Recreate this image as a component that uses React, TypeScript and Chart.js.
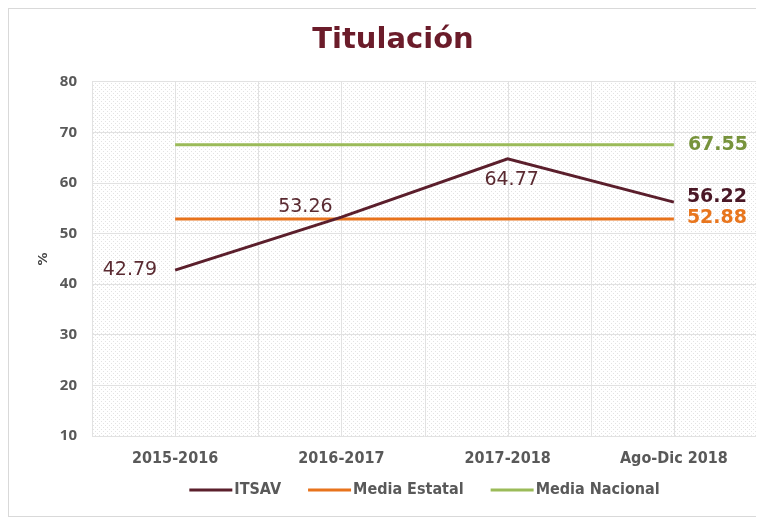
import React, { useEffect, useRef } from "react";
import { Chart, registerables } from "chart.js";

Chart.register(...registerables);

const categories = ["2015-2016", "2016-2017", "2017-2018", "Ago-Dic 2018"];
const itsav = [42.79, 53.26, 64.77, 56.22];
const mediaEstatal = [52.88, 52.88, 52.88, 52.88];
const mediaNacional = [67.55, 67.55, 67.55, 67.55];
const seriesNames = ["ITSAV", "Media Estatal", "Media Nacional"];
const yMin = 10;
const yMax = 80;
const yStep = 10;

const COLORS = {
  itsav: "#5b1f2c",
  itsavLabel: "#5a2a31",
  itsavBold: "#4a1826",
  estatal: "#e8731c",
  estatalLabel: "#e8761e",
  nacional: "#9bbb59",
  nacionalLabel: "#77933c",
  title: "#6b1c2a",
  axis: "#595959",
  grid: "#e2e2e2",
};

// label placement relative to each drawn point
const labelSpecs: any[][] = [
  [
    { dx: -18, dy: 0, align: "right", bold: false },
    { dx: -36, dy: -10, align: "center", bold: false },
    { dx: 4, dy: 21, align: "center", bold: false },
    { dx: 13, dy: -5, align: "left", bold: true },
  ],
  [null, null, null, { dx: 13, dy: -1, align: "left", bold: true }],
  [null, null, null, { dx: 14, dy: 0, align: "left", bold: true }],
];
const labelColors = [COLORS.itsavLabel, COLORS.estatalLabel, COLORS.nacionalLabel];

function makePattern(ctx: CanvasRenderingContext2D) {
  const c = document.createElement("canvas");
  c.width = 4;
  c.height = 4;
  const p = c.getContext("2d")!;
  p.fillStyle = "#ffffff";
  p.fillRect(0, 0, 4, 4);
  p.fillStyle = "#e3e3e3";
  p.fillRect(0, 0, 1, 1);
  p.fillRect(2, 2, 1, 1);
  return ctx.createPattern(c, "repeat");
}

const backgroundPlugin = {
  id: "plotBackground",
  beforeDraw(chart: any) {
    const { ctx, chartArea } = chart;
    const pat = makePattern(ctx);
    ctx.save();
    if (pat) ctx.fillStyle = pat;
    ctx.fillRect(chartArea.left, chartArea.top, chartArea.right - chartArea.left, chartArea.bottom - chartArea.top);
    ctx.restore();
  },
  beforeDatasetsDraw(chart: any) {
    const { ctx, chartArea, scales } = chart;
    const x = scales.x;
    ctx.save();
    ctx.strokeStyle = COLORS.grid;
    ctx.lineWidth = 1;
    for (let v = -0.5; v <= categories.length - 0.5 + 1e-6; v += 0.5) {
      const px = Math.round(x.getPixelForValue(v)) + 0.5;
      ctx.beginPath();
      ctx.moveTo(px, chartArea.top);
      ctx.lineTo(px, chartArea.bottom);
      ctx.stroke();
    }
    ctx.restore();
  },
};

const labelPlugin = {
  id: "valueLabels",
  afterDatasetsDraw(chart: any) {
    const { ctx } = chart;
    ctx.save();
    ctx.textBaseline = "middle";
    chart.data.datasets.forEach((ds: any, di: number) => {
      const meta = chart.getDatasetMeta(di);
      meta.data.forEach((pt: any, i: number) => {
        const spec = labelSpecs[di][i];
        if (!spec) return;
        const val = ds.data[i] as number;
        ctx.font = (spec.bold ? "bold " : "") + "19px 'DejaVu Sans'";
        ctx.fillStyle = di === 0 && spec.bold ? COLORS.itsavBold : labelColors[di];
        ctx.textAlign = spec.align;
        ctx.fillText(val.toFixed(2), pt.x + spec.dx, pt.y + spec.dy);
      });
    });
    ctx.restore();
  },
};

// legend drawn below the axis labels, centred on the plot area
const legendPlugin = {
  id: "lineLegend",
  afterDraw(chart: any) {
    const { ctx, chartArea, scales } = chart;
    const lineLen = 43;
    const textGap = 2;
    const itemGap = 27;
    const y = scales.x.bottom + 17;
    ctx.save();
    ctx.font = "bold 16px 'DejaVu Sans Condensed'";
    ctx.textBaseline = "middle";
    ctx.textAlign = "left";
    const items = chart.data.datasets.map((d: any) => ({
      text: d.label as string,
      color: d.borderColor as string,
      w: ctx.measureText(d.label).width,
    }));
    const total = items.reduce((s: number, it: any) => s + lineLen + textGap + it.w, 0) + itemGap * (items.length - 1);
    let x = (chartArea.left + chartArea.right) / 2 - total / 2;
    items.forEach((it: any) => {
      ctx.fillStyle = it.color;
      ctx.fillRect(x, y - 1.5, lineLen, 3);
      x += lineLen + textGap;
      ctx.fillStyle = COLORS.axis;
      ctx.fillText(it.text, x, y);
      x += it.w + itemGap;
    });
    ctx.restore();
  },
};

const layoutTweakPlugin = {
  id: "layoutTweak",
  afterLayout(chart: any) {
    const t = chart.titleBlock;
    if (t) {
      t.left += 10;
      t.right += 10;
    }
  },
};

export default function App() {
  const ref = useRef<HTMLCanvasElement | null>(null);
  useEffect(() => {
    if (!ref.current) return;
    const chart = new Chart(ref.current, {
      type: "line",
      data: {
        labels: categories,
        datasets: [
          { label: seriesNames[0], data: itsav, borderColor: COLORS.itsav, backgroundColor: COLORS.itsav, borderWidth: 3, pointRadius: 0, tension: 0 },
          { label: seriesNames[1], data: mediaEstatal, borderColor: COLORS.estatal, backgroundColor: COLORS.estatal, borderWidth: 3, pointRadius: 0 },
          { label: seriesNames[2], data: mediaNacional, borderColor: COLORS.nacional, backgroundColor: COLORS.nacional, borderWidth: 3, pointRadius: 0 },
        ],
      },
      options: {
        responsive: false,
        animation: false,
        layout: { padding: { top: 0, right: 6, left: 0, bottom: 43 } },
        plugins: {
          tooltip: { enabled: false },
          legend: { display: false },
          title: {
            display: true,
            text: "Titulación",
            color: COLORS.title,
            font: { family: "'DejaVu Sans'", size: 29, weight: "bold" },
            padding: { top: 14, bottom: 24 },
          },
        },
        scales: {
          x: {
            type: "category",
            offset: true,
            grid: { display: false, drawTicks: false },
            border: { display: false },
            ticks: {
              color: COLORS.axis,
              padding: 13,
              font: { family: "'DejaVu Sans Condensed'", size: 16, weight: "bold" },
              maxRotation: 0,
            },
            afterFit: (s: any) => {
              s.height = 37;
            },
          },
          y: {
            min: yMin,
            max: yMax,
            grid: { color: COLORS.grid, drawTicks: false },
            border: { display: false },
            ticks: {
              stepSize: yStep,
              color: COLORS.axis,
              padding: 15,
              font: { family: "'Open Sans'", size: 15, weight: "bold" },
            },
            title: {
              display: true,
              text: "%",
              color: "#404040",
              font: { family: "'DejaVu Sans'", size: 13, weight: "bold" },
              padding: { top: 27, bottom: 0 },
            },
            afterFit: (s: any) => {
              s.width = 83;
            },
          },
        },
      },
      plugins: [backgroundPlugin, labelPlugin, legendPlugin, layoutTweakPlugin],
    } as any);
    return () => chart.destroy();
  }, []);

  return (
    <div style={{ width: 754, height: 507, border: "1px solid #d9d9d9", background: "#fff" }}>
      <canvas ref={ref} width={754} height={507} style={{ display: "block", width: 754, height: 507 }} />
    </div>
  );
}
